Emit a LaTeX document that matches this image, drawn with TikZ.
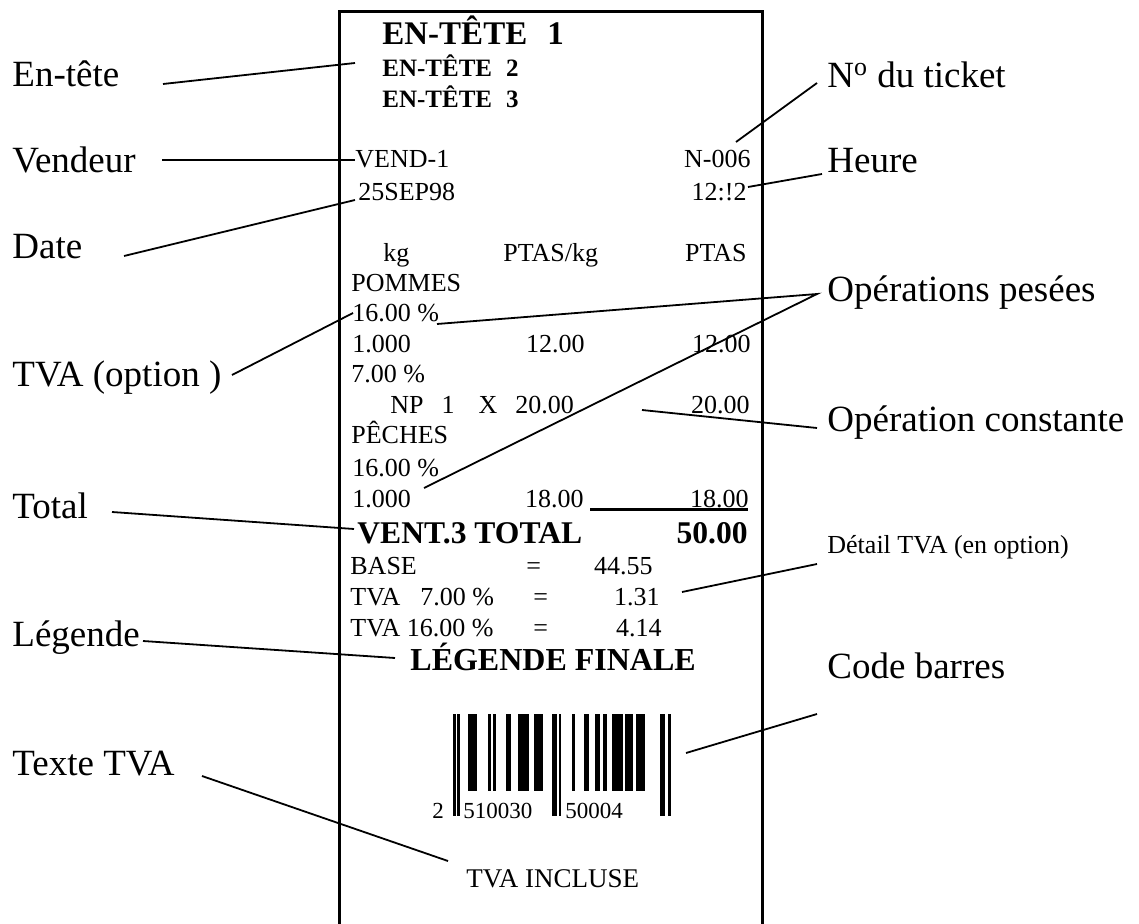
\documentclass[tikz,border=0pt]{standalone}
\usepackage{fontspec}
\setmainfont{Liberation Serif}

\begin{document}
\begin{tikzpicture}[x=0.5pt, y=-0.5pt,
  lbl/.style={font=\fontsize{18.5}{22}\selectfont, inner sep=0pt, anchor=base west},
  tk/.style={font=\fontsize{13}{15}\selectfont, inner sep=0pt, anchor=base west},
  tkr/.style={tk, anchor=base east},
  tkb/.style={font=\bfseries\fontsize{15.8}{18}\selectfont, inner sep=0pt, anchor=base west},
  lead/.style={line width=0.9pt}]
  \useasboundingbox (0,0) rectangle (1139,924);
  % Ticket outline (open at the bottom)
  \draw[line width=1.5pt] (339,924) -- (339,12) -- (762,12) -- (762,924);
  % Headers
  \node[tkb, font=\bfseries\fontsize{16.5}{20}\selectfont] (hdrA) at (382,45) {EN-TÊTE\hspace{10pt}1};
  \node[tkb, font=\bfseries\fontsize{12.5}{15}\selectfont] (hdrB) at (382,77) {EN-TÊTE\hspace{7pt}2};
  \node[tkb, font=\bfseries\fontsize{12.5}{15}\selectfont] (hdrC) at (382,108) {EN-TÊTE\hspace{7pt}3};
  % Seller, number, date, time
  \node[tk] (vend) at (355,168) {VEND-1};
  \node[tkr] (tnum) at (751,168) {N-006};
  \node[tk] (date) at (358,201) {25SEP98};
  \node[tkr] (hour) at (747,201) {12:!2};
  % Columns
  \node[tk] (colKg) at (383,262) {kg};
  \node[tk] (colPrice) at (503,262) {PTAS/kg};
  \node[tkr] (colAmt) at (747,262) {PTAS};
  % Item lines
  \node[tk] (itemA) at (351,292) {POMMES};
  \node[tk] (vatA) at (352,322) {16.00 \%};
  \node[tk] (qtyA) at (352,353) {1.000};
  \node[tkr] (unitA) at (585,353) {12.00};
  \node[tkr] (amtA) at (751,353) {12.00};
  \node[tk] (vatB) at (351,383) {7.00 \%};
  \node[tk] (fixB) at (390,414) {NP\hspace{9pt}1\hspace{12pt}X\hspace{9pt}20.00};
  \node[tkr] (amtB) at (750,414) {20.00};
  \node[tk] (itemC) at (351,444) {PÊCHES};
  \node[tk] (vatC) at (352,476) {16.00 \%};
  \node[tk] (qtyC) at (352,507) {1.000};
  \node[tkr] (unitC) at (584,507) {18.00};
  \node[tkr] (amtC) at (749,507) {18.00};
  \draw[line width=1.5pt] (590,509.5) -- (748,509.5);
  % Total
  \node[tkb] (total) at (357,543) {VENT.3 TOTAL};
  \node[tkb, anchor=base east] (totAmt) at (748,543) {50.00};
  % VAT detail
  \node[tk] (base) at (350,574) {BASE};
  \node[tk] (eqA) at (526,574) {=};
  \node[tkr] (baseAmt) at (653,574) {44.55};
  \node[tk] (vatLineA) at (350,605) {TVA\hspace{10pt}7.00 \%};
  \node[tk] (eqB) at (533,605) {=};
  \node[tkr] (vatAmtA) at (660,605) {1.31};
  \node[tk] (vatLineB) at (350,636) {TVA 16.00 \%};
  \node[tk] (eqC) at (533,636) {=};
  \node[tkr] (vatAmtB) at (662,636) {4.14};
  % Footer
  \node[tkb, font=\bfseries\fontsize{16}{19}\selectfont] (legend) at (410,670) {LÉGENDE FINALE};
  % Bar code
  \foreach \xa/\xb/\tall in {453/455.7/1, 457/459.7/1, 468/476.7/0, 488/491/0, 493/496/0,
      506/510.5/0, 518/529.3/0, 534/542.5/0, 552/556.7/1, 558.5/561.3/1, 571.5/574.8/0,
      584/588.7/0, 595.3/600/0, 603.3/606.7/0, 612/623/0, 624.5/633/0, 635.5/644.5/0,
      660/665.3/1, 668/670.7/1}
    \fill (\xa,714) rectangle (\xb,{791+25*\tall});
  \node[tk, font=\fontsize{11.5}{13}\selectfont] (eanA) at (432,818) {2};
  \node[tk, font=\fontsize{11.5}{13}\selectfont] (eanB) at (463,818) {510030};
  \node[tk, font=\fontsize{11.5}{13}\selectfont] (eanC) at (565,818) {50004};
  \node[tk, font=\fontsize{13.5}{16}\selectfont] (incl) at (466,887) {TVA INCLUSE};
  % Left labels
  \node[lbl] (lEntete) at (12,87) {En-tête};
  \node[lbl] (lVendeur) at (12,173) {Vendeur};
  \node[lbl] (lDate) at (12,259) {Date};
  \node[lbl] (lTva) at (12,387) {TVA (option )};
  \node[lbl] (lTotal) at (12,518) {Total};
  \node[lbl] (lLegende) at (12,646) {Légende};
  \node[lbl] (lTexte) at (12,775) {Texte TVA};
  % Right labels
  \node[lbl] (lTicket) at (827,88) {N\textsuperscript{o} du ticket};
  \node[lbl] (lHeure) at (827,173) {Heure};
  \node[lbl] (lPesees) at (827,302) {Opérations pesées};
  \node[lbl] (lConst) at (827,432) {Opération constante};
  \node[lbl, font=\fontsize{13}{15}\selectfont] (lDetail) at (827,553) {Détail TVA (en option)};
  \node[lbl] (lCode) at (827,678) {Code barres};
  % Leader ends
  \coordinate (eEntete) at (163,84);   \coordinate (tEntete) at (355,63);
  \coordinate (eVendeur) at (162,160); \coordinate (tVendeur) at (355,160);
  \coordinate (eDate) at (124,256);    \coordinate (tDate) at (355,200);
  \coordinate (eTva) at (232,375);     \coordinate (tTva) at (353,313);
  \coordinate (eTotal) at (112,512);   \coordinate (tTotal) at (354,529);
  \coordinate (eLegende) at (143,641); \coordinate (tLegende) at (395,658);
  \coordinate (eTexte) at (202,776);   \coordinate (tTexte) at (448,861);
  \coordinate (eTicket) at (817,83);   \coordinate (tTicket) at (736,142);
  \coordinate (eHeure) at (822,174);   \coordinate (tHeure) at (748,187);
  \coordinate (ePesees) at (817,294);  \coordinate (tPeseesA) at (437,324);
  \coordinate (tPeseesB) at (424,488);
  \coordinate (eConst) at (817,428);   \coordinate (tConst) at (642,410);
  \coordinate (eDetail) at (817,564);  \coordinate (tDetail) at (682,592);
  \coordinate (eCode) at (817,714);    \coordinate (tCode) at (686,753);
  % Leaders
  \draw[lead] (eEntete) -- (tEntete);
  \draw[lead] (eVendeur) -- (tVendeur);
  \draw[lead] (eDate) -- (tDate);
  \draw[lead] (eTva) -- (tTva);
  \draw[lead] (eTotal) -- (tTotal);
  \draw[lead] (eLegende) -- (tLegende);
  \draw[lead] (eTexte) -- (tTexte);
  \draw[lead] (eTicket) -- (tTicket);
  \draw[lead] (eHeure) -- (tHeure);
  \draw[lead] (tPeseesA) -- (ePesees) -- (tPeseesB);
  \draw[lead] (eConst) -- (tConst);
  \draw[lead] (eDetail) -- (tDetail);
  \draw[lead] (eCode) -- (tCode);
\end{tikzpicture}
\end{document}
